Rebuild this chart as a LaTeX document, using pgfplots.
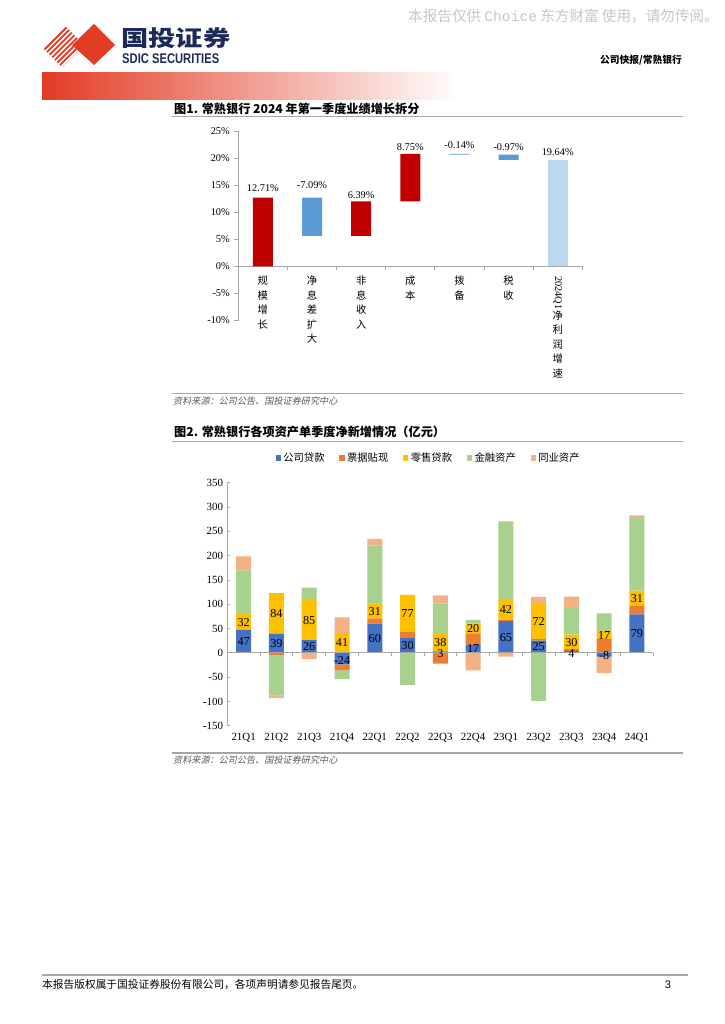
\documentclass[border=0pt]{standalone}
\usepackage{pgfplots}
\pgfplotsset{compat=1.18}
\usepackage{fontspec}
\setmainfont{Liberation Serif}
\newfontfamily\cjk{Noto Sans CJK SC}
\newfontfamily\cjkit[FakeSlant=0.2]{Noto Sans CJK SC}
\newfontfamily\sans{Liberation Sans}
\newfontfamily\mono{Liberation Mono}
\definecolor{cred}{HTML}{C00000}
\definecolor{cblue}{HTML}{5B9BD5}
\definecolor{clblue}{HTML}{BDD7EE}
\definecolor{c1}{HTML}{4472C4}
\definecolor{c2}{HTML}{ED7D31}
\definecolor{c3}{HTML}{FFC000}
\definecolor{c4}{HTML}{A9D18E}
\definecolor{c5}{HTML}{F4B183}
\definecolor{axgray}{HTML}{A6A6A6}
\definecolor{logored}{HTML}{E33B24}
\definecolor{navy}{HTML}{1C2A5A}
\pgfplotsset{
  cA/.style={at={(PA)}, anchor=south west, scale only axis,
    width=282.8pt, height=155.8pt, xmin=-0.5, xmax=6.5, ymin=-10, ymax=25, clip=false},
  cB/.style={at={(PB)}, anchor=south west, scale only axis,
    width=350.2pt, height=199.7pt, xmin=-0.5, xmax=12.5, ymin=-150, ymax=350, clip=false},
}
\begin{document}
\begin{tikzpicture}[x=0.822pt,y=-0.822pt]
\useasboundingbox (0,0) rectangle (724,1024);
\fill[white] (0,0) rectangle (724,1024);
\coordinate (PA) at (238.3,320.5);
\coordinate (PB) at (227.3,725.7);
% ---------- header ----------
\node[anchor=east, text=black!22, font=\cjk\fontsize{12}{13}\selectfont, inner sep=0] at (719,16) {本报告仅供 {\mono Choice} 东方财富 使用，请勿传阅。};
\begin{scope}
\clip (40,45) -- (62,23) -- (84,45) -- (62,67) -- cycle;
\foreach \i in {0,...,9} \draw[logored, line width=1.5pt] (22+\i*5.2,72) -- ++(50,-50);
\end{scope}
\fill[logored] (72,45) -- (94,24) -- (115,45) -- (94,65) -- cycle;
\node[anchor=west, inner sep=0, text=navy, font=\cjk\bfseries\fontsize{19}{20}\selectfont] at (121,38.5) {\scalebox{1.18}[0.95]{国投证券}};
\node[anchor=west, inner sep=0, text=navy, font=\sans\bfseries\fontsize{11.5}{12}\selectfont] at (122,58.5) {\scalebox{0.8}[1]{SDIC SECURITIES}};
\node[anchor=east, inner sep=0, font=\cjk\bfseries\fontsize{8}{9}\selectfont] at (682,60) {公司快报/常熟银行};
\shade[left color=logored, right color=white] (42,72) rectangle (458,99);
% ---------- titles and rules ----------
\node[anchor=west, inner sep=0, font=\cjk\bfseries\fontsize{10}{12}\selectfont] at (174,108.5) {图1. 常熟银行 2024 年第一季度业绩增长拆分};
\draw[axgray, line width=1.3pt] (172,116.5) -- (683,116.5);
\draw[axgray, line width=1.3pt] (172,393.5) -- (683,393.5);
\node[anchor=west, inner sep=0, text=black!65, font=\cjkit\fontsize{7.5}{9}\selectfont] at (173,401.5) {资料来源：公司公告、国投证券研究中心};
\node[anchor=west, inner sep=0, font=\cjk\bfseries\fontsize{10}{12}\selectfont] at (174,432) {图2. 常熟银行各项资产单季度净新增情况（亿元）};
\draw[axgray, line width=1.3pt] (172,441.5) -- (683,441.5);
\draw[axgray, line width=1.3pt] (172,752.7) -- (683,752.7);
\node[anchor=west, inner sep=0, text=black!65, font=\cjkit\fontsize{7.5}{9}\selectfont] at (173,760.5) {资料来源：公司公告、国投证券研究中心};
% ---------- footer ----------
\draw[axgray, line width=0.9pt] (42,975) -- (688,975);
\node[anchor=west, inner sep=0, font=\cjk\fontsize{8.8}{10}\selectfont] at (42,985) {本报告版权属于国投证券股份有限公司，各项声明请参见报告尾页。};
\node[anchor=center, inner sep=0, font=\sans\fontsize{9}{10}\selectfont] at (668,985) {3};
% ---------- chart 1: waterfall ----------
\begin{axis}[cA, ybar stacked, bar width=16.4pt,
  axis y line*=left, axis x line*=middle,
  axis line style={axgray, line width=0.7pt},
  ytick={-10,-5,...,25},
  yticklabel={\pgfmathprintnumber{\tick}\%},
  /pgf/number format/assume math mode=true,
  ytick style={axgray, line width=0.7pt},
  tick align=outside, major tick length=3.5pt,
  xtick={0,...,6}, major x tick style={draw=none},
  xticklabels={规\\模\\增\\长, 净\\息\\差\\扩\\大, 非\\息\\收\\入, 成\\本, 拨\\备, 税\\收, {\rotatebox{-90}{\rmfamily 2024Q1}\\净\\利\\润\\增\\速}},
  xticklabel style={font=\cjk\fontsize{8.5}{11.9}\selectfont, align=center, anchor=north, yshift=-1pt},
  yticklabel style={font=\fontsize{8.5}{10}\selectfont},
]
\addplot[fill=none, draw=none] coordinates {(0,0)(1,5.62)(2,5.62)(3,12.01)(4,20.62)(5,19.65)(6,0)};
\addplot[fill=cred, draw=none] coordinates {(0,12.71)(1,0)(2,6.39)(3,8.75)(4,0)(5,0)(6,0)};
\addplot[fill=cblue, draw=none] coordinates {(0,0)(1,7.09)(2,0)(3,0)(4,0.14)(5,0.97)(6,0)};
\addplot[fill=clblue, draw=none] coordinates {(0,0)(1,0)(2,0)(3,0)(4,0)(5,0)(6,19.64)};
\pgfplotsinvokeforeach{0.5,1.5,2.5,3.5,4.5,5.5,6.5}{\draw[axgray, line width=0.7pt] (axis cs:#1,0) -- (axis cs:#1,-0.7);}
\end{axis}
\begin{axis}[cA, hide axis]
\addplot[draw=none, mark=none, nodes near coords, point meta=explicit symbolic,
  every node near coord/.append style={anchor=center, font=\fontsize{8.5}{10}\selectfont}]
  coordinates {(0,14.4)[12.71\%] (1,15.0)[-7.09\%] (2,13.1)[6.39\%] (3,22.1)[8.75\%] (4,22.3)[-0.14\%] (5,22.1)[-0.97\%] (6,21.05)[19.64\%]};
\end{axis}
% ---------- chart 2: stacked bars ----------
\begin{axis}[cB, ybar stacked, bar width=12.33pt,
  axis y line*=left, axis x line*=bottom,
  axis line style={axgray, line width=0.7pt},
  x axis line style={draw=none},
  ytick={-150,-100,...,350},
  ytick style={axgray, line width=0.7pt},
  tick align=inside, major tick length=2.5pt,
  /pgf/number format/assume math mode=true,
  xtick={0,...,12}, major x tick style={draw=none},
  xticklabels={21Q1,21Q2,21Q3,21Q4,22Q1,22Q2,22Q3,22Q4,23Q1,23Q2,23Q3,23Q4,24Q1},
  xticklabel style={font=\fontsize{9}{10}\selectfont, yshift=-3pt},
  yticklabel style={font=\fontsize{9}{10}\selectfont},
  legend style={at={(0.473,1.102)}, anchor=center, draw=none, fill=none,
    font=\cjk\fontsize{8.5}{9}\selectfont, legend columns=5,
    /tikz/every even column/.append style={column sep=10pt}},
  legend image code/.code={\fill[#1] (0pt,-2.2pt) rectangle (4.4pt,2.2pt);},
]
\addplot[fill=c1, draw=none] coordinates {(0,47)(1,39)(2,26)(3,0)(4,60)(5,30)(6,3)(7,17)(8,65)(9,25)(10,4)(11,0)(12,79)};
\addlegendentry{公司贷款}
\addplot[fill=c2, draw=none] coordinates {(0,0.5)(1,0)(2,0)(3,0)(4,10.5)(5,12.5)(6,0)(7,23)(8,3.5)(9,3.5)(10,3.5)(11,28)(12,18)};
\addlegendentry{票据贴现}
\addplot[fill=c3, draw=none] coordinates {(0,32)(1,84)(2,85)(3,41)(4,31)(5,77)(6,38)(7,20)(8,42)(9,72)(10,30)(11,17)(12,31)};
\addlegendentry{零售贷款}
\addplot[fill=c4, draw=none] coordinates {(0,90)(1,0)(2,23)(3,0)(4,119)(5,0)(6,61)(7,8)(8,160)(9,0)(10,55)(11,36)(12,152)};
\addlegendentry{金融资产}
\addplot[fill=c5, draw=none] coordinates {(0,29)(1,0)(2,0)(3,32)(4,14)(5,0)(6,16)(7,0)(8,0)(9,14.5)(10,23)(11,0)(12,3)};
\addlegendentry{同业资产}
\end{axis}
\begin{axis}[cB, hide axis, ybar stacked, bar width=12.33pt]
\addplot[fill=c1, draw=none] coordinates {(0,0)(1,0)(2,0)(3,-24)(4,0)(5,0)(6,0)(7,0)(8,0)(9,0)(10,0)(11,-8)(12,0)};
\addplot[fill=c2, draw=none] coordinates {(0,0)(1,-4)(2,0)(3,-12)(4,0)(5,0)(6,-22)(7,0)(8,0)(9,0)(10,0)(11,0)(12,0)};
\addplot[fill=c3, draw=none] coordinates {(0,0)(1,0)(2,0)(3,0)(4,0)(5,0)(6,0)(7,0)(8,0)(9,0)(10,0)(11,0)(12,0)};
\addplot[fill=c4, draw=none] coordinates {(0,0)(1,-84)(2,0)(3,-18)(4,0)(5,-66)(6,0)(7,0)(8,0)(9,-99)(10,0)(11,0)(12,0)};
\addplot[fill=c5, draw=none] coordinates {(0,0)(1,-5)(2,-13)(3,0)(4,0)(5,0)(6,0)(7,-36)(8,-8)(9,0)(10,0)(11,-34)(12,0)};
\end{axis}
\begin{axis}[cB, hide axis]
\draw[axgray, line width=0.7pt] (axis cs:-0.5,0) -- (axis cs:12.5,0);
\pgfplotsinvokeforeach{0.5,1.5,2.5,3.5,4.5,5.5,6.5,7.5,8.5,9.5,10.5,11.5,12.5}{\draw[axgray, line width=0.7pt] (axis cs:#1,0) -- (axis cs:#1,-6);}
\addplot[draw=none, mark=none, nodes near coords, point meta=explicit symbolic,
  every node near coord/.append style={anchor=center, font=\fontsize{10}{11}\selectfont}]
  coordinates {(0,23.5)[47] (1,19.5)[39] (2,13)[26] (3,-15)[-24] (4,30)[60] (5,15)[30] (6,-2)[3] (7,8.5)[17] (8,32.5)[65] (9,12.5)[25] (10,-2)[4] (11,-5.5)[-8] (12,39.5)[79]};
\addplot[draw=none, mark=none, nodes near coords, point meta=explicit symbolic,
  every node near coord/.append style={anchor=center, font=\fontsize{10}{11}\selectfont}]
  coordinates {(0,62)[32] (1,80)[84] (2,67.5)[85] (3,22)[41] (4,86)[31] (5,80.5)[77] (6,21)[38] (7,50)[20] (8,89)[42] (9,64)[72] (10,22)[30] (11,36.5)[17] (12,111)[31]};
\end{axis}
\end{tikzpicture}
\end{document}
